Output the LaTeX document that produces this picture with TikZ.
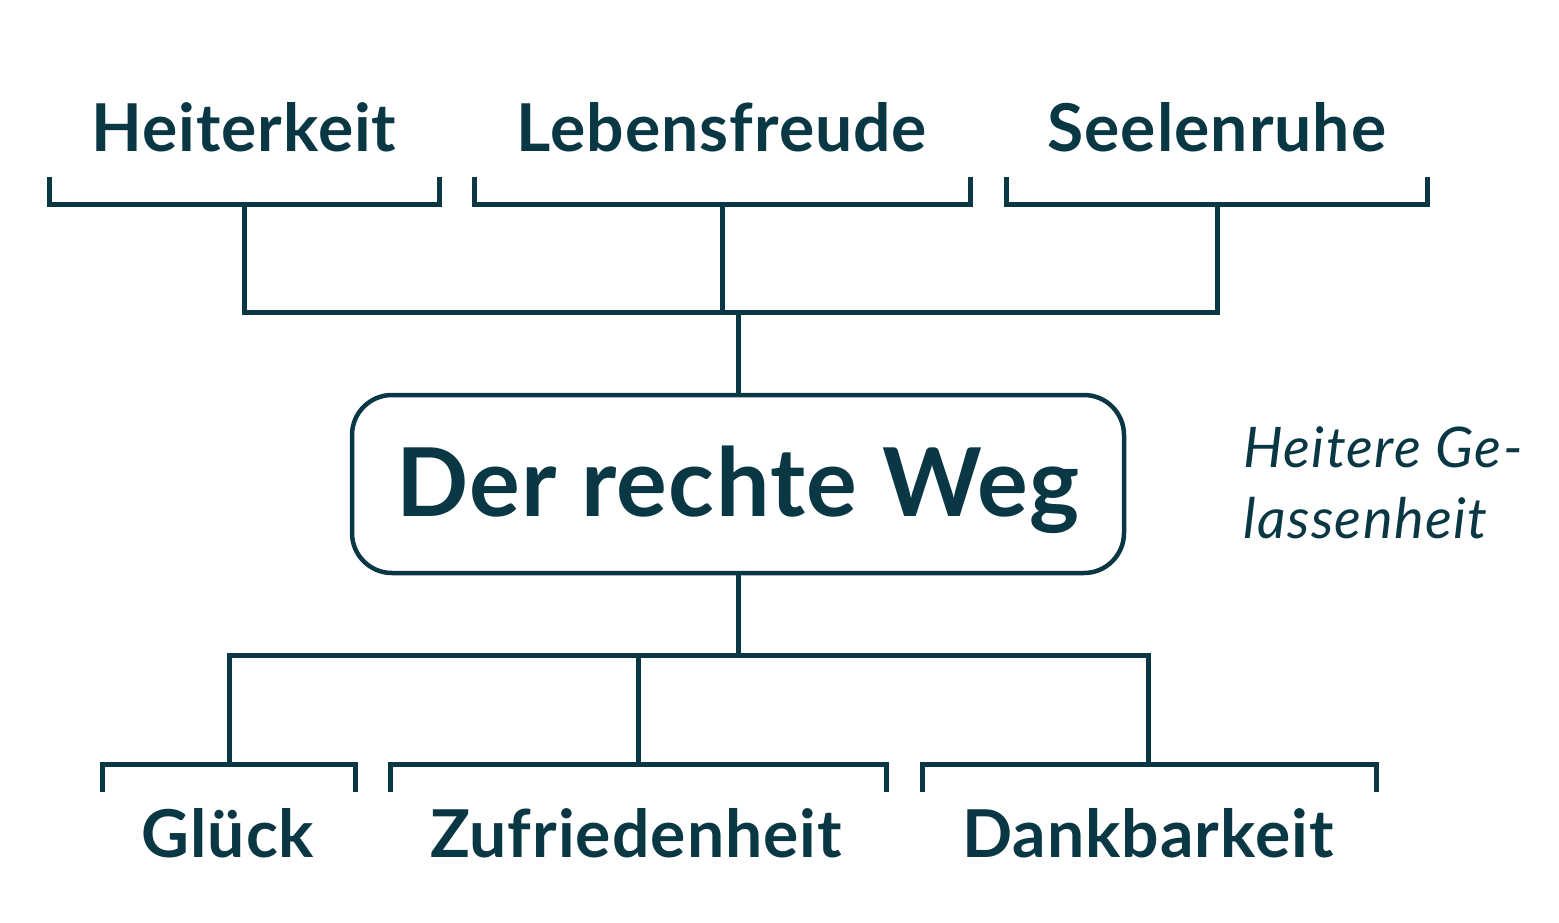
\documentclass[tikz,border=0pt]{standalone}
\usepackage{fontspec}
\setmainfont{Lato}
\definecolor{ink}{HTML}{0A3744}
\begin{document}
\begin{tikzpicture}[x=1pt,y=-1pt,
  lbl/.style={anchor=base,inner sep=0pt,text=ink,font=\fontsize{66}{70}\selectfont\bfseries\addfontfeatures{LetterSpace=1.5}},
  conn/.style={draw=ink,line width=5pt,line cap=rect,line join=miter},
  mainbox/.style={draw=ink,line width=4.5pt,rounded corners=40pt,minimum width=772pt,minimum height=178pt,inner sep=0pt,text=ink,font=\fontsize{95}{100}\selectfont\bfseries\addfontfeatures{LetterSpace=1.5}},
  note/.style={anchor=base west,inner sep=0pt,text=ink,font=\fontsize{56}{71}\selectfont\itshape\addfontfeatures{LetterSpace=2.5},align=left}]
\useasboundingbox (0,0) rectangle (1559,922);
% labels
\node[lbl] (heit) at (244,151) {Heiterkeit};
\node[lbl] (lebe) at (722,151) {Lebensfreude};
\node[lbl] (seel) at (1217,151) {Seelenruhe};
\node[lbl] (glue) at (228,857) {Glück};
\node[lbl] (zufr) at (636,857) {Zufriedenheit};
\node[lbl] (dank) at (1148,857) {Dankbarkeit};
\node[mainbox] (weg) at (738,484) {\raisebox{-6pt}[\height][\depth]{Der rechte Weg}};
\node[note] (hg) at (1243,467) {Heitere Ge-};
\node[note] (hg2) at (1243,538) {lassenheit};
% top brackets
\coordinate (t1) at (244,204.5);
\coordinate (t2) at (722,204.5);
\coordinate (t3) at (1217,204.5);
\draw[conn] (49,179) |- (t1) -| (439,179);
\draw[conn] (474,179) |- (t2) -| (970,179);
\draw[conn] (1006,179) |- (t3) -| (1427,179);
\coordinate (tj) at (738,312);
\draw[conn] (t1) |- (tj) -| (t3);
\draw[conn] (t2) -- (722,312);
\draw[conn] (tj) -- (weg.north);
% bottom
\coordinate (bj) at (738,655);
\coordinate (b1) at (229,764.5);
\coordinate (b2) at (638,764.5);
\coordinate (b3) at (1148,764.5);
\draw[conn] (weg.south) -- (bj);
\draw[conn] (b1) |- (bj) -| (b3);
\draw[conn] (b2) -- (638,655);
\draw[conn] (102,789) |- (b1) -| (355,789);
\draw[conn] (390,789) |- (b2) -| (886,789);
\draw[conn] (922,789) |- (b3) -| (1376,789);
\end{tikzpicture}
\end{document}
